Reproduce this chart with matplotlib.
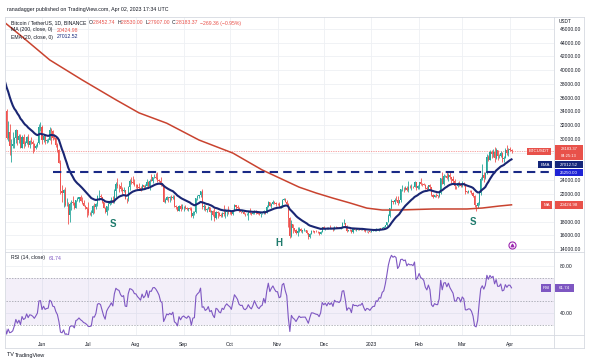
import matplotlib
matplotlib.use("Agg")
import matplotlib.pyplot as plt
import matplotlib.dates as mdates
from matplotlib.patches import Rectangle
from matplotlib.lines import Line2D
import numpy as np
import pandas as pd

plt.rcParams['font.family'] = ['Liberation Sans', 'DejaVu Sans']

# daily closes before the visible window (2022-04-01 .. 2022-05-07), only feed the indicators
warmup_close = [46283, 45811, 46407, 46581, 45497, 43170, 43444, 42252, 42753, 42158,
                39530, 40074, 41147, 39942, 40552, 40378, 39678, 40801, 41494, 41374,
                40480, 39709, 39442, 39450, 40426, 38112, 39235, 39742, 38596, 37630,
                38468, 38525, 37728, 39690, 36552, 36014, 35466]

# BTCUSDT daily, 2022-05-08 .. 2023-04-02
close = [
    # May 8-31
    34039, 30100, 31018, 28937, 29047, 29284, 30102, 31306, 29863, 30425, 28716, 30297,
    29224, 29432, 30324, 29099, 29655, 29542, 29201, 28630, 29032, 29468, 31735, 31802,
    # Jun
    29806, 30453, 29701, 29865, 29920, 31374, 31126, 30205, 30110, 29092, 28424, 26575,
    22488, 22137, 22583, 20402, 20469, 19018, 20554, 20719, 20715, 19970, 21089, 21230,
    21502, 21028, 20735, 20280, 20105, 19785,
    # Jul
    19270, 19243, 19298, 20232, 20176, 20552, 21638, 21732, 21593, 20862, 19963, 19329,
    20213, 20570, 20829, 21196, 20784, 22428, 23397, 23224, 23155, 22684, 22452, 22579,
    21311, 21252, 22952, 23843, 23774, 23644, 23293,
    # Aug
    23269, 22988, 22819, 22625, 23313, 22954, 23175, 23810, 23150, 23955, 23935, 24404,
    24442, 24306, 24103, 23855, 23343, 23192, 20835, 21141, 21517, 21400, 21530, 21368,
    21560, 20242, 20038, 19556, 20286, 19813, 20050,
    # Sep
    20127, 19952, 19832, 19987, 19813, 18791, 19291, 19320, 21361, 21648, 21826, 22396,
    20174, 20227, 19702, 19803, 20114, 19417, 19538, 18877, 18487, 19410, 19289, 18921,
    18803, 19222, 19080, 19413, 19592, 19423,
    # Oct
    19311, 19057, 19630, 20338, 20160, 19955, 19531, 19417, 19439, 19131, 19060, 19155,
    19375, 19176, 19069, 19262, 19549, 19327, 19123, 19041, 19164, 19204, 19570, 19329,
    20080, 20771, 20295, 20591, 20809, 20627, 20490,
    # Nov
    20483, 20151, 20207, 21148, 21299, 20905, 20591, 18547, 15922, 17601, 17070, 16812,
    16330, 16619, 16901, 16662, 16692, 16700, 16700, 16280, 15781, 16227, 16603, 16599,
    16522, 16458, 16428, 16213, 16442, 17164,
    # Dec
    16978, 17093, 16886, 17106, 16967, 17089, 16837, 17224, 17128, 17127, 17085, 17209,
    17775, 17803, 17357, 16633, 16777, 16739, 16439, 16898, 16818, 16830, 16779, 16837,
    16832, 16919, 16707, 16547, 16633, 16607, 16542,
    # Jan 2023
    16617, 16673, 16675, 16851, 16832, 16951, 16939, 17127, 17179, 17446, 17935, 18855,
    19930, 20955, 20872, 21186, 21133, 20678, 21072, 22667, 22784, 22707, 22917, 22633,
    23060, 23009, 23074, 23028, 23743, 22827, 23126,
    # Feb
    23732, 23489, 23431, 23327, 22933, 22763, 23242, 22964, 21797, 21625, 21862, 21783,
    21773, 22199, 24325, 23518, 24569, 24631, 24271, 24834, 24439, 24189, 23947, 23199,
    23158, 23555, 23492, 23141,
    # Mar
    23629, 23466, 22355, 22346, 22430, 22410, 22197, 21705, 20363, 20188, 20633, 22164,
    24197, 24746, 24375, 25056, 27424, 26965, 28039, 27768, 28175, 27308, 28334, 27494,
    27494, 27992, 27140, 27268, 28349, 28029, 28465,
    # Apr 1-2
    28453, 28183.37]

high = [
    35510, 34320, 32660, 32200, 30030, 30980, 30330, 31460, 31330, 30790, 30660, 30550,
    30780, 29650, 30490, 30680, 29830, 30220, 29870, 29390, 29220, 29560, 32220, 32400,
    31980, 30690, 30680, 29950, 30180, 31770, 31560, 31330, 30700, 30380, 29440, 28550,
    26900, 23360, 22800, 22980, 21360, 20790, 20820, 21080, 21720, 20900, 21200, 21530,
    21610, 21860, 21520, 21190, 20410, 20140,
    20880, 19390, 19650, 20350, 20740, 20680, 21840, 22530, 21950, 21610, 20880, 20050,
    20250, 20880, 21200, 21570, 21680, 22760, 23780, 24280, 23440, 23760, 22990, 23010,
    22650, 21400, 23110, 24200, 24440, 24670, 24180,
    23510, 23460, 23650, 23230, 23470, 23360, 23400, 24250, 23920, 24230, 24920, 24460,
    24890, 25050, 25210, 24230, 24450, 23600, 23210, 21380, 21690, 21520, 21680, 21820,
    21820, 21810, 20380, 20160, 20430, 20580, 20490,
    20200, 20440, 20060, 20000, 20060, 20180, 19460, 19460, 21450, 21790, 21850, 22490,
    22800, 20540, 20380, 19900, 20190, 20120, 19690, 19640, 19960, 19500, 19500, 19310,
    19180, 19320, 20390, 19790, 19650, 20190,
    19480, 19400, 19720, 20480, 20370, 20460, 20060, 19600, 19560, 19520, 19270, 19230,
    19510, 19950, 19230, 19360, 19680, 19700, 19350, 19350, 19250, 19260, 19700, 19600,
    20410, 21020, 20850, 20750, 21080, 20930, 20840,
    20700, 20800, 20390, 21300, 21480, 21370, 21070, 20670, 18590, 18200, 17660, 17070,
    16890, 17190, 17130, 17000, 16740, 17010, 16820, 16750, 16300, 16280, 16700, 16810,
    16600, 16700, 16600, 16480, 16550, 17250,
    17320, 17100, 17160, 17200, 17420, 17110, 17140, 17300, 17350, 17230, 17270, 17240,
    18000, 18390, 17850, 17530, 16800, 16860, 16820, 17060, 16910, 16870, 16960, 16870,
    16860, 16940, 16970, 16780, 16660, 16650, 16640,
    16630, 16760, 16780, 16990, 16880, 17000, 16970, 17180, 17400, 17490, 18000, 19120,
    19970, 21260, 21000, 21470, 21650, 21650, 21190, 22750, 23370, 23080, 23170, 23130,
    23820, 23290, 23500, 23170, 23960, 23790, 23320,
    23810, 24260, 23590, 23590, 23430, 23160, 23350, 23450, 23010, 21940, 21910, 22090,
    21890, 22320, 24370, 25250, 24870, 24770, 25180, 25120, 25250, 24480, 24600, 24130,
    23220, 23690, 23880, 23600,
    23920, 23790, 23480, 22410, 22610, 22600, 22550, 22270, 21800, 20370, 20790, 22190,
    24500, 26390, 25250, 25210, 27760, 27730, 28400, 28470, 28530, 28800, 28750, 28390,
    27790, 28190, 28040, 27500, 28650, 29180, 28660,
    28820, 28530]

low = [
    33710, 30000, 29730, 27700, 26700, 28750, 28630, 29480, 29090, 29460, 28650, 28690,
    28730, 28950, 29240, 28900, 28670, 29300, 28020, 28200, 28530, 28810, 29300, 31220,
    29300, 29580, 29260, 29450, 29500, 29870, 29230, 29850, 29940, 28850, 28100, 26560,
    21930, 20850, 20110, 20230, 20250, 17620, 17960, 19640, 20350, 19770, 19900, 20940,
    20900, 20960, 20520, 20190, 19850, 18630,
    18980, 18980, 18780, 19060, 19300, 19760, 20260, 21190, 21330, 20650, 19910, 19240,
    18910, 19620, 20390, 20480, 20760, 20760, 21580, 22910, 22340, 22500, 21920, 22260,
    21250, 20700, 21040, 22580, 23420, 23500, 23230,
    22850, 22660, 22680, 22440, 22580, 22920, 22840, 23150, 22880, 22650, 23860, 23580,
    24290, 24160, 23770, 23690, 23190, 23110, 20780, 20760, 21060, 20890, 20890, 21150,
    21310, 20110, 19800, 19520, 19550, 19540, 19800,
    19560, 19750, 19650, 19600, 19630, 18650, 18540, 19010, 19300, 21110, 21360, 21550,
    19860, 19620, 19500, 19320, 19760, 19340, 18230, 18760, 18130, 18360, 18540, 18810,
    18630, 18680, 18820, 18470, 18840, 19160,
    19160, 18920, 19000, 19500, 19730, 19850, 19320, 19250, 19320, 19030, 18860, 18990,
    18190, 19070, 18970, 19060, 19160, 19100, 19070, 18900, 18650, 19110, 19070, 19160,
    19240, 20060, 20220, 20000, 20550, 20520, 20250,
    20360, 20050, 20030, 20180, 21080, 20870, 20390, 17170, 15590, 15750, 16360, 16550,
    16230, 15820, 16520, 16440, 16400, 16550, 16560, 16200, 15480, 15630, 16170, 16460,
    16320, 16410, 16400, 16000, 16110, 16430,
    16860, 16790, 16860, 16880, 16870, 16910, 16680, 16730, 17090, 17090, 17070, 16870,
    17070, 17660, 17280, 16530, 16580, 16670, 16260, 16400, 16740, 16560, 16760, 16770,
    16730, 16790, 16590, 16470, 16490, 16330, 16470,
    16500, 16550, 16600, 16660, 16750, 16670, 16900, 16910, 17100, 17150, 17320, 17910,
    18710, 19880, 20550, 20610, 20920, 20400, 20660, 20860, 22420, 22290, 22520, 22470,
    22300, 22850, 22530, 22880, 22990, 22550, 22720,
    22760, 23370, 23200, 23250, 22750, 22630, 22740, 22690, 21690, 21450, 21600, 21630,
    21350, 21530, 22050, 23500, 23340, 24450, 24240, 23840, 24150, 23570, 23600, 22770,
    22720, 23080, 23110, 23020,
    23030, 23200, 21970, 22160, 22200, 22280, 21930, 21580, 20040, 19550, 19900, 20440,
    21820, 24050, 23800, 24120, 24880, 26850, 26900, 27200, 27360, 26600, 27100, 27000,
    27250, 27390, 26630, 26650, 27250, 27700, 27530,
    28240, 27907]

# 200-day SMA
ma_dates = ["2022-05-08", "2022-05-20", "2022-06-06", "2022-06-27", "2022-07-19",
            "2022-08-03", "2022-08-21", "2022-09-11", "2022-10-03", "2022-10-22",
            "2022-11-15", "2022-11-26", "2022-12-07", "2022-12-18", "2022-12-29",
            "2023-01-08", "2023-01-19", "2023-02-10", "2023-03-04", "2023-03-14",
            "2023-03-25", "2023-04-02"]
ma_vals = [46900, 44700, 41500, 38600, 35700, 33800, 32300, 29850, 27950, 25500,
           23000, 22150, 21400, 20700, 19950, 19670, 19670, 19820, 19820, 19960,
           20250, 20425]

level = 25250
last_price = 28183.37
hidden_ticks = [28000, 26000, 20000]   # price labels covered by the value tags

W, H = 600, 360
def fx(px):
    return px / W
def fy(py):
    return 1 - py / H

dates = pd.date_range("2022-05-08", periods=len(close), freq="D")
opens = np.array([warmup_close[-1]] + close[:-1], dtype=float)
opens[-1] = 28452.74
c = np.array(close, dtype=float)
hi = np.array(high, dtype=float)
lo = np.array(low, dtype=float)

full = pd.Series(warmup_close + close, dtype=float)
ema = full.ewm(span=20, adjust=False).mean().values[len(warmup_close):]
d = full.diff()
up = d.clip(lower=0).ewm(alpha=1 / 14, adjust=False).mean()
dn = (-d.clip(upper=0)).ewm(alpha=1 / 14, adjust=False).mean()
rsi = (100 - 100 / (1 + up / dn)).values[len(warmup_close):]

fig = plt.figure(figsize=(6, 3.6), dpi=100)
fig.patch.set_facecolor("white")
ax = fig.add_axes([fx(6), fy(252), fx(554) - fx(6), fy(17) - fy(252)])
rx = fig.add_axes([fx(6), fy(335), fx(554) - fx(6), fy(252) - fy(335)], sharex=ax)

x0 = mdates.date2num(pd.Timestamp("2022-06-01")) - 23.4
x1 = mdates.date2num(pd.Timestamp("2023-04-01")) + 28.6
ax.set_xlim(x0, x1)
ax.set_ylim(13564, 47745)
rx.set_ylim(21.5, 92.1)

month_ticks = pd.date_range("2022-06-01", "2023-04-01", freq="MS")
month_lbls = ["2023" if m.month == 1 else m.strftime("%b") for m in month_ticks]
grid_c = "#eef0f4"
for a in (ax, rx):
    for s in a.spines.values():
        s.set_visible(False)
    a.set_xticks(month_ticks)
    a.grid(True, color=grid_c, lw=0.6)
    a.set_axisbelow(True)
    a.yaxis.tick_right()
    a.tick_params(length=0, labelsize=3.6, labelcolor="#131722", pad=4)
ax.tick_params(axis="x", labelbottom=False)
ax.set_yticks(np.arange(14000, 46001, 2000))
ax.yaxis.set_major_formatter(lambda v, p: "" if round(v) in hidden_ticks else f"{v:.2f}")
rx.set_yticks([40, 80])
rx.yaxis.set_major_formatter(lambda v, p: f"{v:.2f}")
rx.set_xticklabels(month_lbls)
rx.tick_params(axis="x", pad=5)

# candles
cols = np.where(c >= opens, "#26a69a", "#ef5350")
ax.vlines(dates, lo, hi, colors=cols, lw=0.6, zorder=3)
body_lo = np.minimum(opens, c)
body_h = np.maximum(np.abs(c - opens), 60)
ax.bar(dates, body_h, bottom=body_lo, width=0.7, color=cols, lw=0, zorder=3)

ax.plot(pd.to_datetime(ma_dates), ma_vals, color="#c9432f", lw=1.1, zorder=4)
ax.plot(dates, ema, color="#1a2673", lw=1.5, zorder=4)
ax.hlines(level, pd.Timestamp("2022-06-08"), mdates.num2date(x1), color="#1a2a86",
          lw=1.5, linestyles=(0, (4, 2.5)), zorder=4)
ax.axhline(last_price, color="#ef5350", lw=0.5, ls=(0, (1, 1.5)), zorder=2)

ann_c = "#1e7a6c"
ax.text(pd.Timestamp("2022-07-17"), 17640, "S", color=ann_c, fontsize=7, fontweight="bold",
        ha="center", va="center")
ax.text(pd.Timestamp("2022-11-02"), 14870, "H", color=ann_c, fontsize=7, fontweight="bold",
        ha="center", va="center")
ax.text(pd.Timestamp("2023-03-08"), 17930, "S", color=ann_c, fontsize=7, fontweight="bold",
        ha="center", va="center")
ax.scatter([pd.Timestamp("2023-04-02")], [14580], s=26, facecolor="white",
           edgecolor="#9c27b0", lw=0.8, zorder=5)
ax.scatter([pd.Timestamp("2023-04-02")], [14580], s=3, marker="^", color="#9c27b0", zorder=6)

# RSI pane
rx.axhspan(30, 70, color="#7e57c2", alpha=0.09, lw=0)
for lv in (70, 50, 30):
    rx.axhline(lv, color="#9598a1", lw=0.5, ls=(0, (2, 2)))
rx.plot(dates, rsi, color="#7e57c2", lw=0.8, zorder=3)

# frame
def fline(xa, ya, xb, yb, col="#d6d9e0", lw=0.6):
    fig.add_artist(Line2D([fx(xa), fx(xb)], [fy(ya), fy(yb)], color=col, lw=lw))

fline(5, 17, 584, 17)
fline(5, 348, 584, 348)
fline(5, 17, 5, 348)
fline(584, 17, 584, 348)
fline(554, 17, 554, 348)
fline(5, 252, 584, 252)
fline(5, 335, 584, 335)

def ypix(a, v):
    return H - a.transData.transform((0, v))[1]

def tag(xa, xb, yc, h, col, text, size=3.2):
    fig.add_artist(Rectangle((fx(xa), fy(yc + h / 2)), (xb - xa) / W, h / H,
                             transform=fig.transFigure, color=col, lw=0, zorder=10))
    fig.text(fx((xa + xb) / 2), fy(yc), text, ha="center", va="center", color="white",
             fontsize=size, zorder=11)

red = "#e8514a"
navy = "#14267a"
yp = ypix(ax, last_price)
tag(527, 551, yp, 7.5, red, "BTCUSDT")
fig.add_artist(Rectangle((fx(555), fy(yp + 8.5)), 28 / W, 15 / H, transform=fig.transFigure,
                         color=red, lw=0, zorder=10))
fig.text(fx(569), fy(yp - 2.8), "28183.37", ha="center", va="center", color="white",
         fontsize=3.0, zorder=11)
fig.text(fx(569), fy(yp + 4.2), "04:25:13", ha="center", va="center", color="white",
         fontsize=3.0, zorder=11)
tag(538, 552, yp + 13.5, 7, navy, "EMA")
tag(555, 583, yp + 13.5, 7, navy, "27012.52")
tag(555, 583, ypix(ax, level) + 1, 7, "#1f23d6", "25250.00")
ym = ypix(ax, ma_vals[-1])
tag(541, 552, ym, 7.5, red, "MA")
tag(555, 583, ym, 7.5, red, "20424.98")
yr = ypix(rx, rsi[-1])
tag(541, 551, yr, 7.5, "#7e57c2", "RSI")
tag(555, 574, yr, 7.5, "#7e57c2", "61.74")

# header / legends
def chain(x, y, parts, size=3.7):
    t = fig.text(fx(x), fy(y), parts[0][0], color=parts[0][1], fontsize=size, va="center")
    for s, col in parts[1:]:
        t = fig.add_artist(plt.Annotation(s, xy=(1, 0), xycoords=t, va="bottom", ha="left",
                                          color=col, fontsize=size))
    return t

dark = "#131722"
fig.text(fx(7), fy(10), "ranadagger published on TradingView.com, Apr 02, 2023 17:34 UTC",
         fontsize=3.8, color=dark, va="center")
fig.text(fx(559), fy(21.5), "USDT", fontsize=3.4, color=dark, va="center")
chain(11, 23, [("Bitcoin / TetherUS, 1D, BINANCE  ", dark), ("O", dark), ("28452.74  ", red),
               ("H", dark), ("28530.00  ", red), ("L", dark), ("27907.00  ", red),
               ("C", dark), ("28183.37  ", red), ("\u2212269.36 (\u22120.95%)", red)])
chain(11, 30, [("MA (200, close, 0)   ", dark), ("20424.98", red)])
chain(11, 37, [("EMA (20, close, 0)   ", dark), ("27012.52", navy)])
chain(11, 258, [("RSI (14, close)   ", dark), ("61.74", "#7e57c2")])
chain(7, 355, [("TV ", dark), ("TradingView", dark)], size=4)

fig.savefig("out.png", dpi=100)
